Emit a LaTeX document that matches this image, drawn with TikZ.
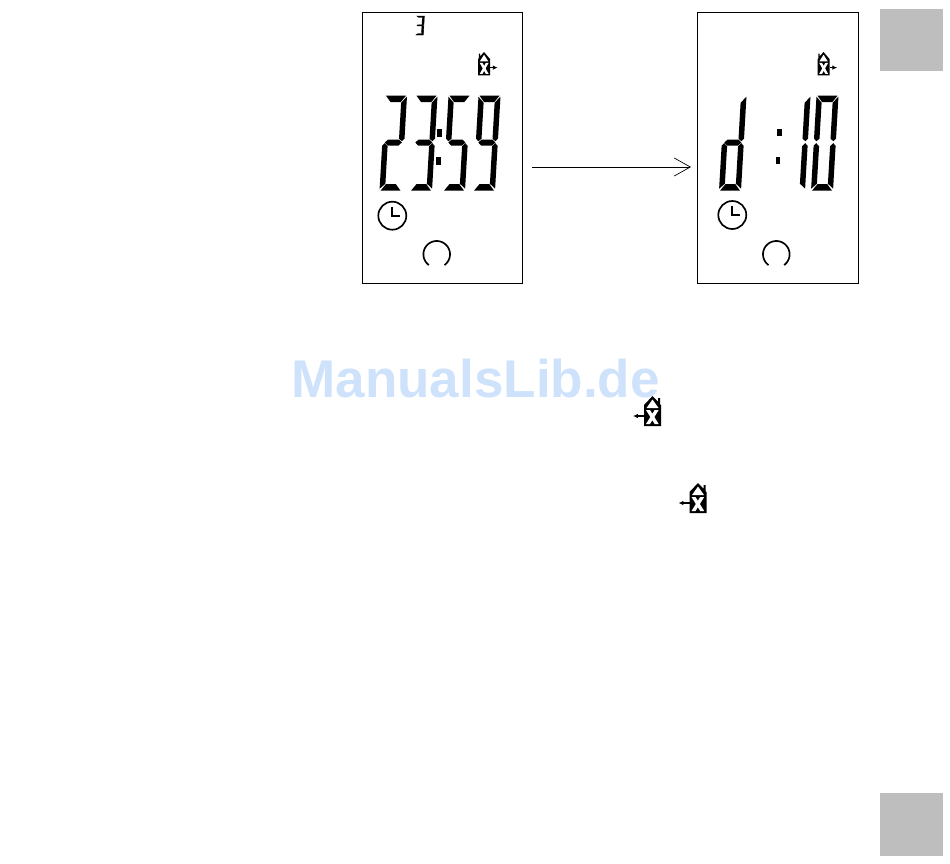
\documentclass[tikz,border=0pt]{standalone}
\usepackage{fontspec}
\usepackage{tikz}
\usetikzlibrary{arrows.meta}
\newfontfamily\markfont[Scale=1]{Liberation Sans}
\definecolor{tabgray}{HTML}{BEBEBE}
\definecolor{markblue}{HTML}{CFE2FB}
\tikzset{
 x=0.02cm, y=-0.02cm,
 panel/.style={draw, line width=0.5pt, inner sep=0, minimum width=3.21cm, minimum height=5.42cm},
 tab/.style={fill=tabgray, draw=none, inner sep=0, minimum width=1.26cm},
 ringicon/.style={line width=0.95pt},
 sega/.style={insert path={(1,-95) -- (21,-95) -- (16,-88.5) -- (6,-88.5) -- cycle}},
 segb/.style={insert path={(22,-94) -- (16.5,-88) -- (16.5,-52) -- (19.5,-49.5) -- (22,-52) -- cycle}},
 segc/.style={insert path={(22,-45) -- (19.5,-47.5) -- (16.5,-44.5) -- (16.5,-7) -- (22,-2) -- cycle}},
 segd/.style={insert path={(1,0) -- (21,0) -- (16,-6.5) -- (6,-6.5) -- cycle}},
 sege/.style={insert path={(0,-45) -- (2.5,-47.5) -- (5.5,-44.5) -- (5.5,-7) -- (0,-2) -- cycle}},
 segf/.style={insert path={(0,-94) -- (5.5,-88) -- (5.5,-52) -- (2.5,-49.5) -- (0,-52) -- cycle}},
 segg/.style={insert path={(2.5,-48.2) -- (5.5,-51) -- (16.5,-51) -- (19.5,-48.2) -- (16.5,-45.2) -- (5.5,-45.2) -- cycle}},
}
\newcommand*{\segdigit}[3][]{
 \begin{scope}[shift={#2}, #1, xslant=.058]
  \foreach \s in {#3} {\fill[seg\s];}
 \end{scope}
}
\newcommand*{\colondot}[1]{\fill #1 rectangle ++(4.5,7.5);}
\newcommand*{\clockicon}[1]{
 \begin{scope}[shift={#1}]
  \draw[ringicon] (0,0) circle (14);
  \draw[ringicon] (0,-9) -- (0,0) -- (8,0);
 \end{scope}
}
\newcommand*{\busyicon}[1]{
 \begin{scope}[shift={#1}]
  \draw[ringicon] plot[domain=126:414, samples=40, smooth] ({13.3*cos(\x)},{13.3*sin(\x)});
 \end{scope}
}
\newcommand*{\houseicon}[2][]{
 \begin{scope}[shift={#2}, #1]
  \fill (0,30) -- (0,9) -- (8.5,0) -- (14,5.5) -- (14,2) -- (16,2) -- (16,8) -- (17,9) -- (17,30) -- cycle;
  \fill[white] (8.5,3.5) -- (14.5,12) -- (2.5,12) -- cycle;
  \fill[white] (2,14) -- (6,14) -- (14.7,28) -- (10.7,28) -- cycle (10.7,14) -- (14.7,14) -- (6,28) -- (2,28) -- cycle;
  \draw[line width=0.8pt, -{Latex[length=2.8pt,width=2.6pt]}] (0,20) -- (-11,20);
 \end{scope}
}

\begin{document}
\begin{tikzpicture}
 \useasboundingbox (0,0) rectangle (950,863);
 \node [tab, minimum height=1.24cm] (tabtop) at (911.5,40) {};
 \node [tab, minimum height=1.25cm] (tabbottom) at (911.5,824.5) {};
 \node [anchor=base west, inner sep=0, text=markblue, font=\markfont\bfseries\fontsize{30.2}{30}\selectfont] (watermark) at (291,397) {ManualsLib.de};

 \node [panel] (paneltime) at (442.2,147.5) {};
 \node [panel] (panelday) at (777.8,147.5) {};
 \coordinate (arrowstart) at (532,167);
 \coordinate (arrowend) at (691,167);
 \draw [-{Straight Barb[length=16*0.02cm,width=18*0.02cm]}, line width=0.4pt] (arrowstart) -- (arrowend);

 \segdigit[xscale=.36, yscale=.2, xslant=-.03, every path/.append style={draw, line width=0.2pt}]{(415.5,35)}{a,b,g,c,d}
 \segdigit{(379.5,190.7)}{a,b,g,e,d}
 \segdigit{(410,190.7)}{a,b,g,c,d}
 \segdigit{(443,190.7)}{a,f,g,c,d}
 \segdigit{(473,190.7)}{a,f,b,g,c,d}
 \colondot{(437.2,129)}
 \colondot{(436.2,157)}
 \clockicon{(392.3,215.7)}
 \busyicon{(436.7,254.3)}
 \houseicon[xscale=-.7, yscale=.78]{(490,52)}

 \segdigit{(719,190.7)}{b,c,d,e,g}
 \segdigit{(783,190.7)}{b,c}
 \segdigit{(811,190.7)}{a,b,c,d,e,f}
 \colondot{(777.2,128.5)}
 \colondot{(775.5,156.5)}
 \clockicon{(732.3,215)}
 \busyicon{(776.3,254.3)}
 \houseicon[xscale=-.7, yscale=.78]{(829.5,52)}

 \houseicon{(644,396)}
 \houseicon{(689.5,483)}
\end{tikzpicture}
\end{document}
